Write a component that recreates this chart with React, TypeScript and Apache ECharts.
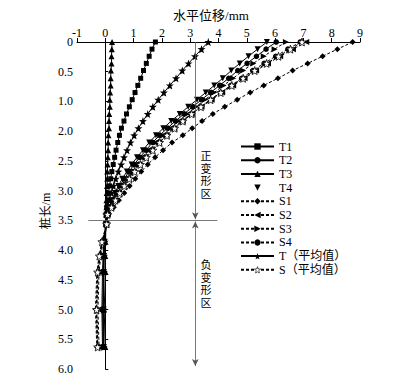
import React, { useEffect, useRef } from "react";
import * as echarts from "echarts";

// depth positions along the (evenly spaced) pile-length axis, in axis units
const depthUpper = [0, 0.12, 0.24, 0.36, 0.48, 0.61, 0.73, 0.85, 0.97, 1.09, 1.21, 1.33, 1.45, 1.57, 1.69, 1.82, 1.94, 2.06, 2.18, 2.3, 2.42, 2.54, 2.66, 2.78, 2.9];
const depthLower = [3.06, 3.36, 3.6, 3.87, 4.5, 5.13];
const depth = [...depthUpper, ...depthLower];

const yTickLabels = ["0", "0.5", "1.0", "2.0", "2.5", "3.0", "3.5", "4.0", "4.5", "5.0", "5.5", "6.0"];

const T1 = [1.77, 1.65, 1.55, 1.45, 1.35, 1.25, 1.15, 1.05, 0.95, 0.85, 0.75, 0.66, 0.57, 0.5, 0.44, 0.38, 0.33, 0.28, 0.23, 0.19, 0.15, 0.11, 0.08, 0.05, 0.03,
  0.02, -0.05, -0.08, -0.1, -0.12, -0.1];
const T2 = [6.04, 5.68, 5.34, 5.01, 4.68, 4.36, 4.04, 3.72, 3.4, 3.09, 2.78, 2.48, 2.19, 1.92, 1.67, 1.44, 1.22, 1.02, 0.84, 0.67, 0.51, 0.38, 0.26, 0.15, 0.06,
  0.04, -0.03, -0.06, -0.07, -0.09, -0.08];
const T3 = [0.24, 0.23, 0.22, 0.22, 0.2, 0.19, 0.19, 0.17, 0.16, 0.16, 0.14, 0.13, 0.13, 0.11, 0.1, 0.1, 0.09, 0.08, 0.07, 0.07, 0.06, 0.05, 0.04, 0.04, 0.03,
  0.02, 0.01, 0.0, 0.01, -0.04, 0.0];
const T4 = [5.71, 5.38, 5.06, 4.75, 4.45, 4.15, 3.85, 3.55, 3.24, 2.93, 2.63, 2.33, 2.05, 1.79, 1.55, 1.33, 1.12, 0.93, 0.76, 0.6, 0.46, 0.34, 0.23, 0.13, 0.05,
  0.03, -0.02, -0.04, -0.05, -0.06, -0.05];
const S1 = [8.74, 8.2, 7.68, 7.15, 6.62, 6.1, 5.6, 5.12, 4.66, 4.22, 3.8, 3.42, 3.07, 2.74, 2.36, 2.04, 1.76, 1.5, 1.27, 1.06, 0.86, 0.67, 0.48, 0.3, 0.12,
  0.05, -0.1, -0.2, -0.27, -0.32, -0.28];
const S2 = [7.1, 6.63, 6.18, 5.75, 5.33, 4.92, 4.52, 4.13, 3.76, 3.4, 3.06, 2.74, 2.44, 2.16, 1.9, 1.65, 1.42, 1.2, 1.0, 0.81, 0.64, 0.48, 0.34, 0.21, 0.09,
  0.04, -0.12, -0.22, -0.3, -0.35, -0.3];
const S3 = [6.38, 5.98, 5.6, 5.23, 4.87, 4.52, 4.18, 3.85, 3.52, 3.2, 2.89, 2.59, 2.31, 2.04, 1.78, 1.54, 1.31, 1.1, 0.91, 0.73, 0.56, 0.42, 0.29, 0.17, 0.07,
  0.05, -0.08, -0.16, -0.22, -0.26, -0.22];
const S4 = [6.89, 6.45, 6.02, 5.61, 5.21, 4.82, 4.44, 4.07, 3.71, 3.36, 3.02, 2.7, 2.4, 2.12, 1.86, 1.61, 1.38, 1.16, 0.96, 0.78, 0.61, 0.46, 0.32, 0.2, 0.08,
  0.04, -0.1, -0.18, -0.25, -0.3, -0.26];
const TAvg = [3.64, 3.4, 3.17, 2.94, 2.72, 2.5, 2.28, 2.07, 1.87, 1.68, 1.5, 1.33, 1.17, 1.02, 0.89, 0.77, 0.66, 0.56, 0.46, 0.37, 0.29, 0.21, 0.14, 0.08, 0.03,
  0.03, -0.02, -0.05, -0.05, -0.08, -0.06];
const SAvg = [6.95, 6.54, 6.12, 5.7, 5.28, 4.87, 4.47, 4.08, 3.72, 3.38, 3.05, 2.74, 2.45, 2.18, 1.92, 1.68, 1.45, 1.24, 1.04, 0.85, 0.67, 0.51, 0.36, 0.22, 0.08,
  0.05, -0.12, -0.21, -0.27, -0.31, -0.27];

// annotation positions (mm, axis units)
const zoneBoundary = 3.0;
const zoneLineX = [-0.6, 3.96];
const arrowX = 3.18;
const arrowBottom = 5.45;

const STAR = "path://M0,-10L2.35,-3.24L9.51,-3.09L3.8,1.24L5.88,8.09L0,4.9L-5.88,8.09L-3.8,1.24L-9.51,-3.09L-2.35,-3.24Z";
const FONT = '"Liberation Serif", "Noto Sans CJK SC", serif';

export default function App() {
  const ref = useRef<HTMLDivElement>(null);
  useEffect(() => {
    if (!ref.current) return;
    const chart = echarts.init(ref.current, null, { renderer: "svg" });
    const toData = (vals: number[]) => vals.map((v, i) => [v, depth[i]]);
    const mk = (name: string, vals: number[], symbol: string, size: number, dashed: boolean, extra: any = {}) => ({
      name,
      type: "line",
      data: toData(vals),
      symbol,
      symbolSize: size,
      showSymbol: true,
      lineStyle: { color: "#000", width: 1, type: dashed ? [3, 2] : "solid" },
      itemStyle: { color: "#000" },
      z: 3,
      ...extra,
    });
    const series: any[] = [
      mk("T1", T1, "rect", 5, false, {
        markLine: {
          silent: true,
          animation: false,
          label: { show: false },
          lineStyle: { color: "#555", width: 0.8, type: "solid" },
          symbolSize: [5, 7],
          data: [
            [{ coord: [zoneLineX[0], zoneBoundary], symbol: "none" }, { coord: [zoneLineX[1], zoneBoundary], symbol: "none" }],
            [{ coord: [arrowX, 0], symbol: "none" }, { coord: [arrowX, zoneBoundary - 0.02], symbol: "arrow" }],
            [{ coord: [arrowX, zoneBoundary + 0.02], symbol: "arrow" }, { coord: [arrowX, arrowBottom], symbol: "arrow" }],
          ],
        },
      }),
      mk("T2", T2, "circle", 5.5, false),
      mk("T3", T3, "triangle", 6, false),
      mk("T4", T4, "triangle", 6, false, { symbolRotate: 180 }),
      mk("S1", S1, "diamond", 6, true),
      mk("S2", S2, "triangle", 6, true, { symbolRotate: 90 }),
      mk("S3", S3, "triangle", 6, true, { symbolRotate: -90 }),
      mk("S4", S4, "circle", 5.5, true),
      mk("T（平均值）", TAvg, STAR, 8, false),
      mk("S（平均值）", SAvg, STAR, 8, true, { itemStyle: { color: "#fff", borderColor: "#000", borderWidth: 0.8 } }),
    ];
    chart.setOption({
      animation: false,
      backgroundColor: "#fff",
      grid: { left: 77, right: 45, top: 42, bottom: 17 },
      xAxis: {
        type: "value",
        position: "top",
        min: -1,
        max: 9,
        interval: 1,
        axisLine: { lineStyle: { color: "#000", width: 1 } },
        axisTick: { show: true, inside: false, length: 4, lineStyle: { color: "#000" } },
        axisLabel: { color: "#000", fontSize: 12, fontFamily: FONT, margin: 3 },
        splitLine: { show: false },
      },
      yAxis: {
        type: "value",
        inverse: true,
        min: 0,
        max: 5.5,
        interval: 0.5,
        axisLine: { show: true, lineStyle: { color: "#000", width: 1 } },
        axisTick: { show: true, inside: true, length: 3, lineStyle: { color: "#000" } },
        axisLabel: {
          color: "#000",
          fontSize: 12,
          fontFamily: FONT,
          margin: 4,
          formatter: (v: number) => yTickLabels[Math.round(v / 0.5)] ?? "",
        },
        splitLine: { show: false },
      },
      legend: {
        orient: "vertical",
        left: 235,
        top: 135.5,
        itemWidth: 33,
        itemHeight: 8,
        itemGap: 1.7,
        textStyle: { color: "#000", fontSize: 12, fontFamily: FONT },
        data: [
          "T1",
          "T2",
          "T3",
          { name: "T4", lineStyle: { opacity: 0, width: 0 } },
          "S1",
          "S2",
          "S3",
          "S4",
          "T（平均值）",
          { name: "S（平均值）", itemStyle: { color: "#fff", borderColor: "#000", borderWidth: 0.6 } },
        ],
      },
      graphic: [
        {
          type: "text",
          x: 211,
          y: 15,
          style: { text: "水平位移/mm", fill: "#000", font: `13px ${FONT}`, align: "center", verticalAlign: "middle" },
        },
        {
          type: "text",
          x: 46,
          y: 211,
          rotation: Math.PI / 2,
          style: { text: "桩长/m", fill: "#000", font: `12px ${FONT}`, align: "center", verticalAlign: "middle" },
        },
        {
          type: "text",
          x: 206,
          y: 150,
          style: { text: "正\n变\n形\n区", fill: "#000", font: `11px ${FONT}`, align: "center", lineHeight: 12.5 },
        },
        {
          type: "text",
          x: 206,
          y: 259,
          style: { text: "负\n变\n形\n区", fill: "#000", font: `11px ${FONT}`, align: "center", lineHeight: 12.5 },
        },
      ],
      series,
    });
    return () => chart.dispose();
  }, []);
  return <div ref={ref} style={{ position: "fixed", left: 0, top: 0, width: 405, height: 386 }} />;
}
